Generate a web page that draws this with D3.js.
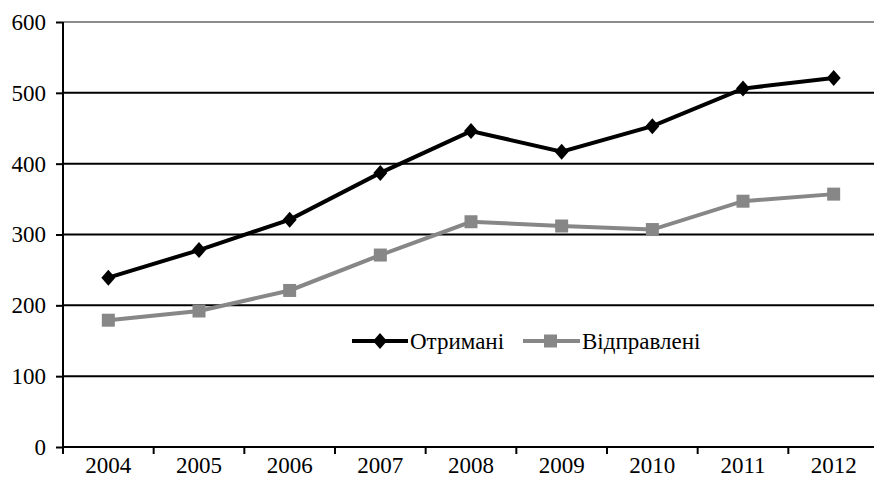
<!DOCTYPE html>
<meta charset="utf-8">
<script src="https://d3js.org/d3.v7.min.js"></script>

<style>
body {margin: 0; background: white;}
svg text {font-family: "Times New Roman", "Liberation Serif", "DejaVu Serif", serif !important; font-size: 23px; fill: black;}
</style>

<svg width="874" height="494"></svg>

<script>
var years = ["2004", "2005", "2006", "2007", "2008", "2009", "2010", "2011", "2012"];
var received = [239, 278, 321, 387, 446, 417, 453, 506, 521];
var sent = [179, 192, 221, 271, 318, 312, 307, 347, 357];
var yTicks = [0, 100, 200, 300, 400, 500, 600];
var seriesNames = ["Отримані", "Відправлені"];

var svg = d3.select("svg");

var mLeft = 63, mRight = 879, mTop = 22, mBottom = 447;

var x = d3.scaleBand().domain(years).range([mLeft, mRight]);
var y = d3.scaleLinear().domain([0, 600]).range([mBottom, mTop]);

// gridlines
svg.append("g").selectAll("line").data(yTicks.filter(function(d) { return d > 0; }))
  .enter().append("line")
    .attr("x1", mLeft).attr("x2", 874)
    .attr("y1", function(d) { return y(d); })
    .attr("y2", function(d) { return y(d); })
    .attr("stroke", function(d) { return d == 600 ? "#8c8c8c" : "black"; })
    .attr("stroke-width", 2);

// y axis
var yAxis = svg.append("g")
  .attr("transform", "translate(" + mLeft + ",0)")
  .attr("font-family", "Liberation Serif")
  .call(d3.axisLeft(y).tickValues(yTicks).tickSize(7).tickPadding(10));
yAxis.attr("font-family", "Liberation Serif").attr("font-size", 23);
yAxis.selectAll("path, line").attr("stroke", "black").attr("stroke-width", 2);
yAxis.select(".domain").attr("d", "M0," + mBottom + "V" + mTop);

// x axis
var xAxis = svg.append("g")
  .attr("transform", "translate(0," + mBottom + ")")
  .call(d3.axisBottom(x).tickSize(0).tickPadding(10));
xAxis.attr("font-family", "Liberation Serif").attr("font-size", 23);
xAxis.select(".domain").attr("d", "M" + mLeft + ",0H874").attr("stroke", "black").attr("stroke-width", 2);
xAxis.selectAll(".bound").data(years.concat(["end"]))
  .enter().append("line")
    .attr("class", "bound")
    .attr("x1", function(d, i) { return mLeft + i * x.step(); })
    .attr("x2", function(d, i) { return mLeft + i * x.step(); })
    .attr("y1", 0).attr("y2", 7)
    .attr("stroke", "black").attr("stroke-width", 2);

var line = d3.line()
  .x(function(d, i) { return x(years[i]) + x.bandwidth() / 2; })
  .y(function(d) { return y(d); });

// sent (gray squares)
svg.append("path").datum(sent)
  .attr("d", line).attr("fill", "none")
  .attr("stroke", "#878787").attr("stroke-width", 4);
svg.append("g").selectAll("rect").data(sent).enter().append("rect")
  .attr("x", function(d, i) { return x(years[i]) + x.bandwidth() / 2 - 6.5; })
  .attr("y", function(d) { return y(d) - 6.5; })
  .attr("width", 13).attr("height", 13)
  .attr("fill", "#878787");

// received (black diamonds)
svg.append("path").datum(received)
  .attr("d", line).attr("fill", "none")
  .attr("stroke", "black").attr("stroke-width", 4);
svg.append("g").selectAll("path").data(received).enter().append("path")
  .attr("d", "M0,-8L7,0L0,8L-7,0Z")
  .attr("transform", function(d, i) {
    return "translate(" + (x(years[i]) + x.bandwidth() / 2) + "," + y(d) + ")";
  })
  .attr("fill", "black");

// legend
var lg = svg.append("g").attr("transform", "translate(352,341)")
  .attr("font-family", "Liberation Serif").attr("font-size", 23);
lg.append("line").attr("x1", 0).attr("x2", 56).attr("stroke", "black").attr("stroke-width", 4);
lg.append("path").attr("d", "M28,-8L35,0L28,8L21,0Z").attr("fill", "black");
lg.append("text").attr("x", 58).attr("y", 8).text(seriesNames[0]);
lg.append("line").attr("x1", 171).attr("x2", 228).attr("stroke", "#878787").attr("stroke-width", 4);
lg.append("rect").attr("x", 192).attr("y", -6.5).attr("width", 13).attr("height", 13).attr("fill", "#878787");
lg.append("text").attr("x", 230).attr("y", 8).text(seriesNames[1]);
</script>
